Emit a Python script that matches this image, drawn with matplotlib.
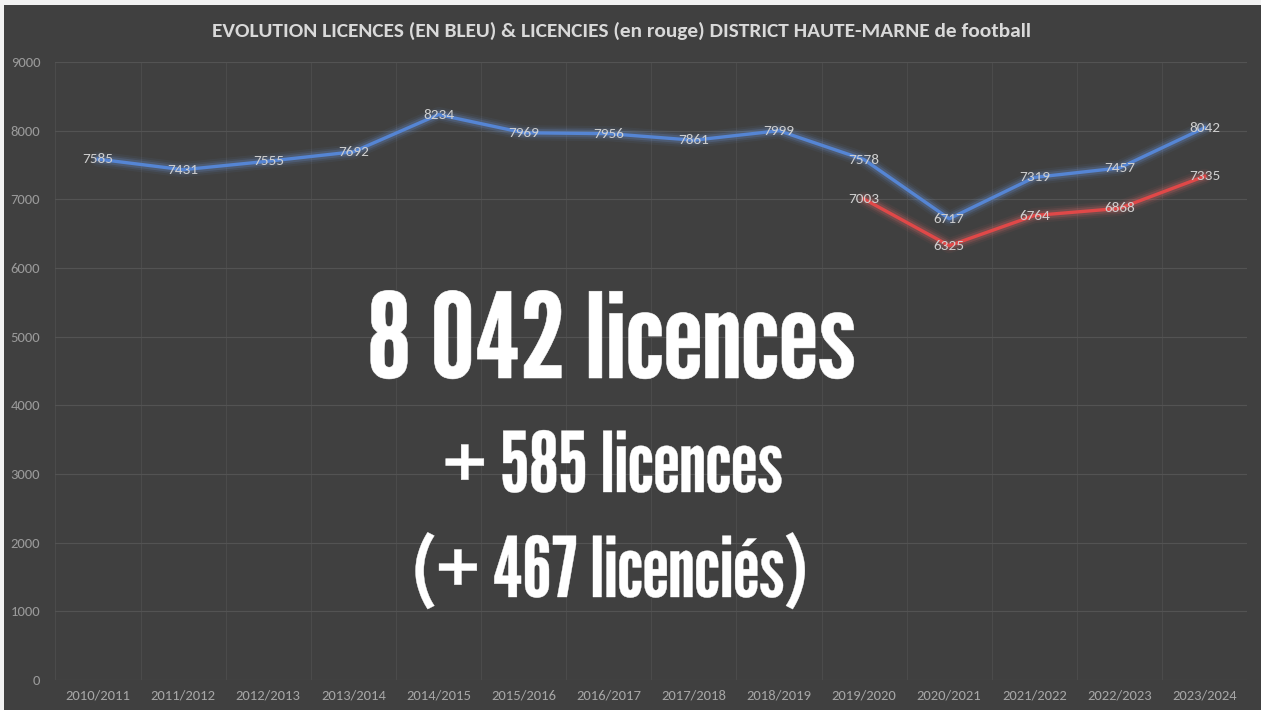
import matplotlib
matplotlib.use("Agg")
import matplotlib.pyplot as plt
from matplotlib.patheffects import AbstractPathEffect
from matplotlib.transforms import Affine2D
import numpy as np

# --- data ---
saisons = ["2010/2011", "2011/2012", "2012/2013", "2013/2014", "2014/2015",
           "2015/2016", "2016/2017", "2017/2018", "2018/2019", "2019/2020",
           "2020/2021", "2021/2022", "2022/2023", "2023/2024"]
licences = [7585, 7431, 7555, 7692, 8234, 7969, 7956, 7861, 7999, 7578,
            6717, 7319, 7457, 8042]
# licencies only known from 2019/2020
licencies_saisons = saisons[9:]
licencies = [7003, 6325, 6764, 6868, 7335]
y_ticks = [0, 1000, 2000, 3000, 4000, 5000, 6000, 7000, 8000, 9000]

bg = "#404040"
label_font = ["Carlito", "Lato", "DejaVu Sans"]
big_font = ["League Gothic", "Oswald", "DejaVu Sans"]


class Widen(AbstractPathEffect):
    """Stretch text horizontally around its centre and thicken the strokes."""

    def __init__(self, sx, lw):
        super().__init__()
        self.sx = sx
        self.lw = lw
        self.cx = 0.0

    def draw_path(self, renderer, gc, tpath, affine, rgbFace=None):
        aff = affine + Affine2D().translate(-self.cx, 0).scale(self.sx, 1).translate(self.cx, 0)
        gc0 = renderer.new_gc()
        gc0.copy_properties(gc)
        gc0.set_linewidth(self.lw)
        gc0.set_foreground(rgbFace)
        gc0.set_joinstyle("round")
        renderer.draw_path(gc0, tpath, aff, rgbFace)
        gc0.restore()


fig = plt.figure(figsize=(12.61, 7.10), dpi=100, facecolor="#f2f2f2")
# dark panel (white strip on top, thin light frame left)
fig.patches.append(plt.Rectangle((0.003, 0.0), 0.997, 0.993, transform=fig.transFigure,
                                 facecolor=bg, edgecolor="none", zorder=-5))

ax = fig.add_axes([0.044, 0.0423, 0.945, 0.8704])
ax.set_facecolor(bg)
x = np.arange(len(saisons))
x_red = np.arange(len(saisons) - len(licencies), len(saisons))

# glow + line
for xs, ys, col, glow in [(x, licences, "#5585d4", "#6f9de6"),
                          (x_red, licencies, "#e04848", "#f06a6a")]:
    for lw, a in [(11, 0.06), (8, 0.10), (5.5, 0.18)]:
        ax.plot(xs, ys, color=glow, lw=lw, alpha=a, solid_capstyle="round",
                solid_joinstyle="round", zorder=2)
    ax.plot(xs, ys, color=col, lw=2.4, solid_joinstyle="round", zorder=3)

for xi, v in zip(x, licences):
    ax.text(xi, v, str(v), ha="center", va="center", color="#cfcfcf",
            fontsize=11, family=label_font, zorder=4)
for xi, v in zip(x_red, licencies):
    ax.text(xi, v, str(v), ha="center", va="center", color="#cfcfcf",
            fontsize=11, family=label_font, zorder=4)

ax.set_xlim(-0.5, len(saisons) - 0.5)
ax.set_ylim(0, 9000)
ax.set_yticks(y_ticks)
ax.set_yticklabels([str(t) for t in y_ticks], family=label_font, fontsize=10.5,
                   color="#9a9a9a")
ax.set_xticks(x)
ax.set_xticklabels(saisons, family=label_font, fontsize=10.5, color="#a6a6a6")
ax.tick_params(axis="both", length=0)
ax.tick_params(axis="y", pad=11)
ax.tick_params(axis="x", pad=7)
ax.set_xticks(np.arange(-0.5, len(saisons)), minor=True)
ax.tick_params(axis="x", which="minor", length=0)
ax.grid(axis="y", which="major", color="#535353", lw=0.8)
ax.grid(axis="x", which="minor", color="#4b4b4b", lw=0.8)
for s in ax.spines.values():
    s.set_visible(False)

fig.text(0.493, 0.957, "EVOLUTION LICENCES (EN BLEU) & LICENCIES (en rouge) DISTRICT HAUTE-MARNE de football",
         ha="center", va="center", color="#d9d9d9", fontsize=15.4, fontweight="bold",
         family=label_font)

# big overlay text: (text, x centre px, baseline px, size, stretch, stroke)
big_lines = [("8 042 licences", 611.5, 378, 85, 1.075, 0.4),
             ("+ 585 licences", 612.5, 492, 60, 1.025, 0.3),
             ("(+ 467 licenciés)", 610, 597, 60, 1.015, 0.3)]
W, H = 1261, 710
for s, cx, base, size, sx, sw in big_lines:
    eff = Widen(sx, sw)
    eff.cx = cx / W * fig.bbox.width
    fig.text(cx / W, 1 - base / H, s, ha="center", va="baseline", color="white",
             fontsize=size, family=big_font, path_effects=[eff])

fig.savefig("out.png", dpi=100, facecolor=fig.get_facecolor())
